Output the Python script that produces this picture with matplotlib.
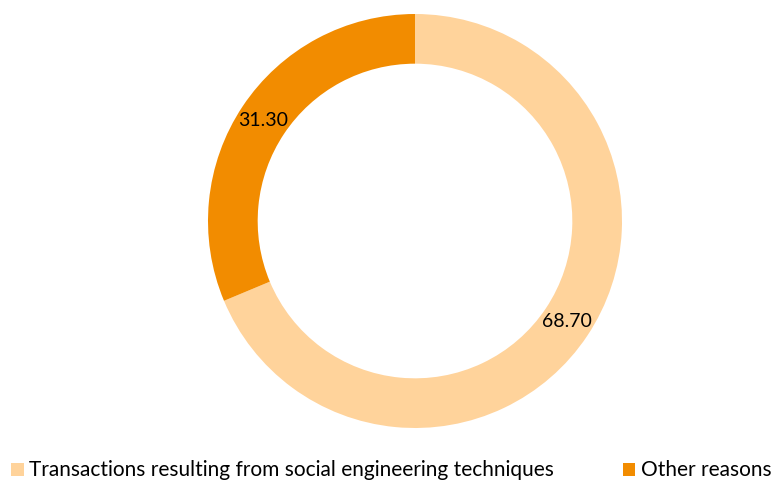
import matplotlib.pyplot as plt
from matplotlib.patches import Patch

plt.rcParams['font.family'] = ['Lato', 'DejaVu Sans']

labels = ['Transactions resulting from social engineering techniques', 'Other reasons']
values = [68.70, 31.30]
colors = ['#FFD39B', '#F28C00']

W, H = 772, 483
fig = plt.figure(figsize=(W / 100, H / 100), dpi=100)

# donut centre ~ (415, 221) px, radius ~ 207 px
cx, cy, r = 415, 221, 207
ax = fig.add_axes([(cx - r) / W, (H - cy - r) / H, 2 * r / W, 2 * r / H])

wedges, texts, autotexts = ax.pie(
    values, colors=colors, startangle=90, counterclock=False,
    wedgeprops=dict(width=0.24, linewidth=0),
    autopct=lambda p: f'{p:.2f}', pctdistance=0.88,
    textprops=dict(fontsize=14, color='black'))
ax.set_xlim(-1, 1)
ax.set_ylim(-1, 1)
ax.set_aspect('equal')

handles = [Patch(facecolor=c, edgecolor='none') for c in colors]
fig.legend(handles, labels, loc='lower left', bbox_to_anchor=(-0.004, -0.025),
           ncol=2, frameon=False, fontsize=15, handlelength=0.6,
           handleheight=0.6, handletextpad=0.25, columnspacing=3.3,
           borderpad=0.2)

fig.savefig('out.png', dpi=100)
